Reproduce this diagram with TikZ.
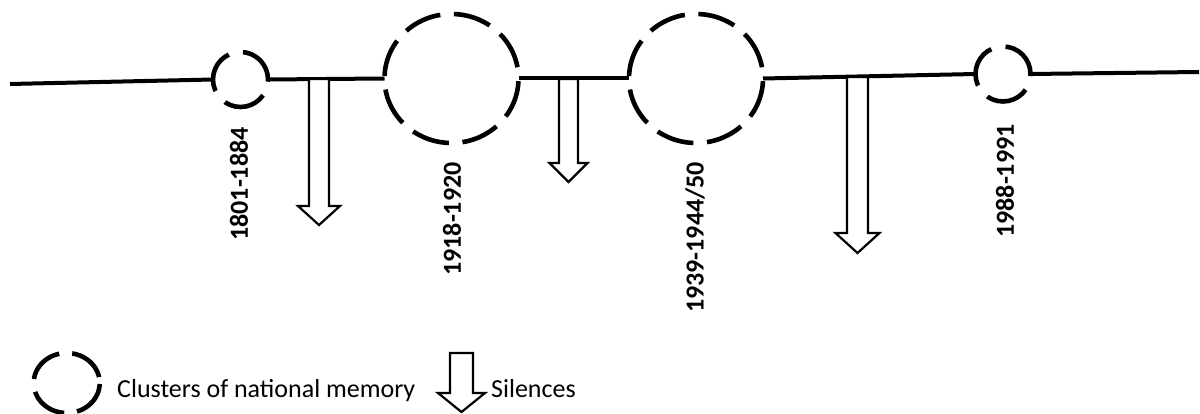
\documentclass[tikz,border=0pt]{standalone}
\usepackage{fontspec}
\setmainfont{Carlito}
\usetikzlibrary{shapes.geometric}
\newcommand\silencearrow[7]{% name, cx, top, shaft bottom, tip, half shaft, half head
  \draw[silence] ({#2-#6},#3) coordinate (#1) -- ({#2+#6},#3) -- ({#2+#6},#4) -- ({#2+#7},#4)
    -- (#2,#5) -- ({#2-#7},#4) -- ({#2-#6},#4) -- cycle;}
\begin{document}
\begin{tikzpicture}[x=1pt,y=-1pt,
  cluster/.style={ellipse, draw, line width=4.6pt, inner sep=0pt, outer sep=0pt},
  smallcluster/.style={cluster, minimum width=55pt, minimum height=55pt,
    dash pattern=on 43pt off 14.6pt, dash phase=2.4pt},
  bigcluster/.style={cluster, minimum width=134pt, minimum height=129pt,
    dash pattern=on 38pt off 13.6pt, dash phase=40.3pt},
  legendcluster/.style={cluster, minimum width=66pt, minimum height=60pt,
    dash pattern=on 38pt off 13pt, dash phase=45pt},
  timeline/.style={line width=4pt},
  silence/.style={draw, line width=2.2pt, fill=white, line join=miter},
  datelabel/.style={rotate=90, font=\fontsize{26}{31}\selectfont\bfseries, inner sep=0pt},
  legendtext/.style={anchor=base west, font=\fontsize{26}{31}\selectfont, inner sep=0pt}]
\useasboundingbox (0,0) rectangle (1200,414);

% clusters of national memory
\node[smallcluster] (c1) at (240.5,79.5) {};
\node[bigcluster]   (c2) at (451.5,78.5) {};
\node[bigcluster]   (c3) at (696,78.5) {};
\node[smallcluster] (c4) at (1003,74) {};

% timeline
\coordinate (tstart) at (10,84);
\coordinate (tend) at (1199,72);
\draw[timeline] (tstart) -- (c1.west);
\draw[timeline] (c1.east) -- (c2.west);
\draw[timeline] (c2.east) -- (c3.west);
\draw[timeline] (c3.east) -- (c4.west);
\draw[timeline] (c4.east) -- (tend);

% silences
\silencearrow{s1}{319}{79}{206}{225}{10}{21}
\silencearrow{s2}{568.5}{79}{163}{182}{9.5}{19}
\silencearrow{s3}{857.5}{77}{233}{253}{10.5}{22}

% date labels
\node[datelabel] (d1) at (239,184) {1801-1884};
\node[datelabel] (d2) at (452,219) {1918-1920};
\node[datelabel] (d3) at (695,237.5) {1939-1944/50};
\node[datelabel] (d4) at (1005,181) {1988-1991};

% legend
\node[legendcluster] (lc) at (66.7,383) {};
\node[legendtext] (lt1) at (117,397) {Clusters of national memory};
\silencearrow{ls}{461.5}{353}{393}{412}{11.5}{23.5}
\node[legendtext] (lt2) at (491,397) {Silences};
\end{tikzpicture}
\end{document}
